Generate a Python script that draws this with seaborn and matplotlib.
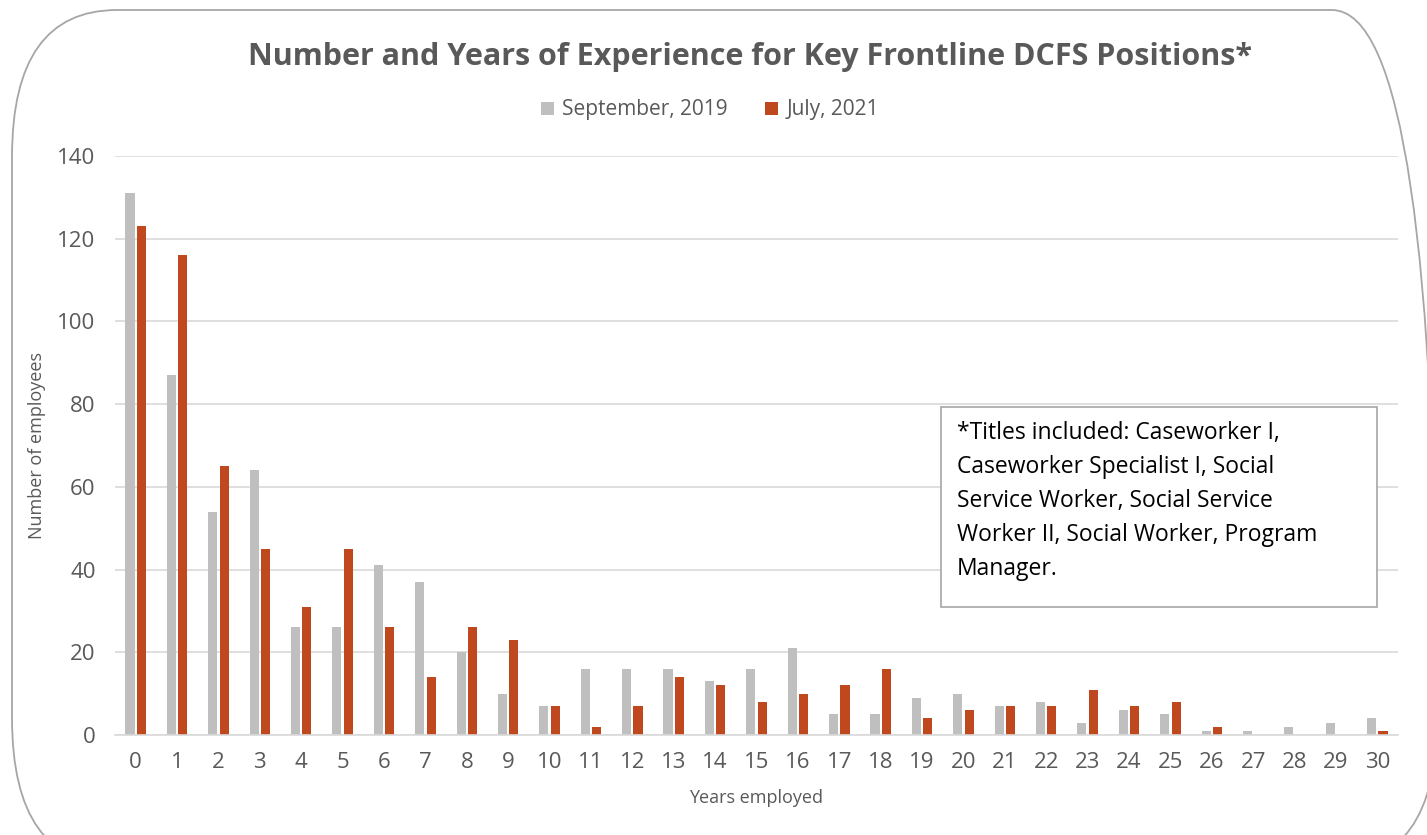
import seaborn as sns
import matplotlib.pyplot as plt
import pandas as pd
from matplotlib.patches import FancyBboxPatch, Rectangle

years = [str(y) for y in range(31)]
sep_2019 = [131, 87, 54, 64, 26, 26, 41, 37, 20, 10, 7, 16, 16, 16, 13, 16,
            21, 5, 5, 9, 10, 7, 8, 3, 6, 5, 1, 1, 2, 3, 4]
jul_2021 = [123, 116, 65, 45, 31, 45, 26, 14, 26, 23, 7, 2, 7, 14, 12, 8,
            10, 12, 16, 4, 6, 7, 7, 11, 7, 8, 2, 0, 0, 0, 1]
series_names = ["September, 2019", "July, 2021"]

df = pd.DataFrame({
    "year": years * 2,
    "count": sep_2019 + jul_2021,
    "period": [series_names[0]] * len(years) + [series_names[1]] * len(years),
})

sns.set_theme(style="white")
plt.rcParams["font.family"] = ["Open Sans", "DejaVu Sans"]

W, H = 1427, 835
fig = plt.figure(figsize=(W / 100, H / 100), dpi=100)
ax = fig.add_axes([115 / W, 1 - 735 / H, 1283 / W, 579 / H])

# rounded frame around the whole chart (pixel coords, elliptic corners)
frame = FancyBboxPatch((12, -30), 1425, 855,
                       boxstyle="round,pad=0,rounding_size=105",
                       mutation_aspect=1.4, transform=None, fill=False,
                       edgecolor="#a6a6a6", linewidth=1.3, zorder=-10)
fig.patches.append(frame)

sns.barplot(data=df, x="year", y="count", hue="period", order=years,
            hue_order=series_names, palette=["#bfbfbf", "#c0481f"],
            width=0.55, gap=0.2, ax=ax, saturation=1, edgecolor="none")

ax.set_ylim(0, 140)
ax.set_xlim(-0.5, 30.5)
ax.set_yticks(range(0, 141, 20))
ax.yaxis.grid(True, color="#d9d9d9", linewidth=1.2)
ax.set_axisbelow(True)
for s in ["top", "right", "left"]:
    ax.spines[s].set_visible(False)
ax.spines["bottom"].set_color("#d9d9d9")
ax.spines["bottom"].set_linewidth(1.2)
ax.tick_params(axis="both", length=0, labelsize=16, colors="#595959")
ax.tick_params(axis="x", pad=12)
ax.tick_params(axis="y", pad=14)

ax.set_xlabel("Years employed", fontsize=13, color="#595959", labelpad=12)
ax.set_ylabel("Number of employees", fontsize=13, color="#595959")
ax.yaxis.set_label_coords((46 - 115) / 1283, 0.5)

ax.legend_.remove()
handles, labels = ax.get_legend_handles_labels()
fig.legend(handles, labels, loc="center", bbox_to_anchor=(710 / W, 1 - 110 / H),
           ncol=2, frameon=False, fontsize=15, labelcolor="#595959",
           handlelength=0.6, handleheight=0.6, handletextpad=0.4, columnspacing=1.8)

fig.text(750 / W, 1 - 57 / H,
         "Number and Years of Experience for Key Frontline DCFS Positions*",
         ha="center", va="center", fontsize=22, fontweight="bold", color="#595959")

# note box
fig.patches.append(Rectangle((941 / W, 1 - 607 / H), 436 / W, 200 / H,
                             transform=fig.transFigure, facecolor="white",
                             edgecolor="#a6a6a6", linewidth=1.2, zorder=5))
fig.text(957 / W, 1 - 421 / H,
         "*Titles included: Caseworker I,\nCaseworker Specialist I, Social\n"
         "Service Worker, Social Service\nWorker II, Social Worker, Program\nManager.",
         ha="left", va="top", fontsize=16.5, color="black", linespacing=1.55,
         zorder=6)

fig.savefig("out.png", dpi=100)
